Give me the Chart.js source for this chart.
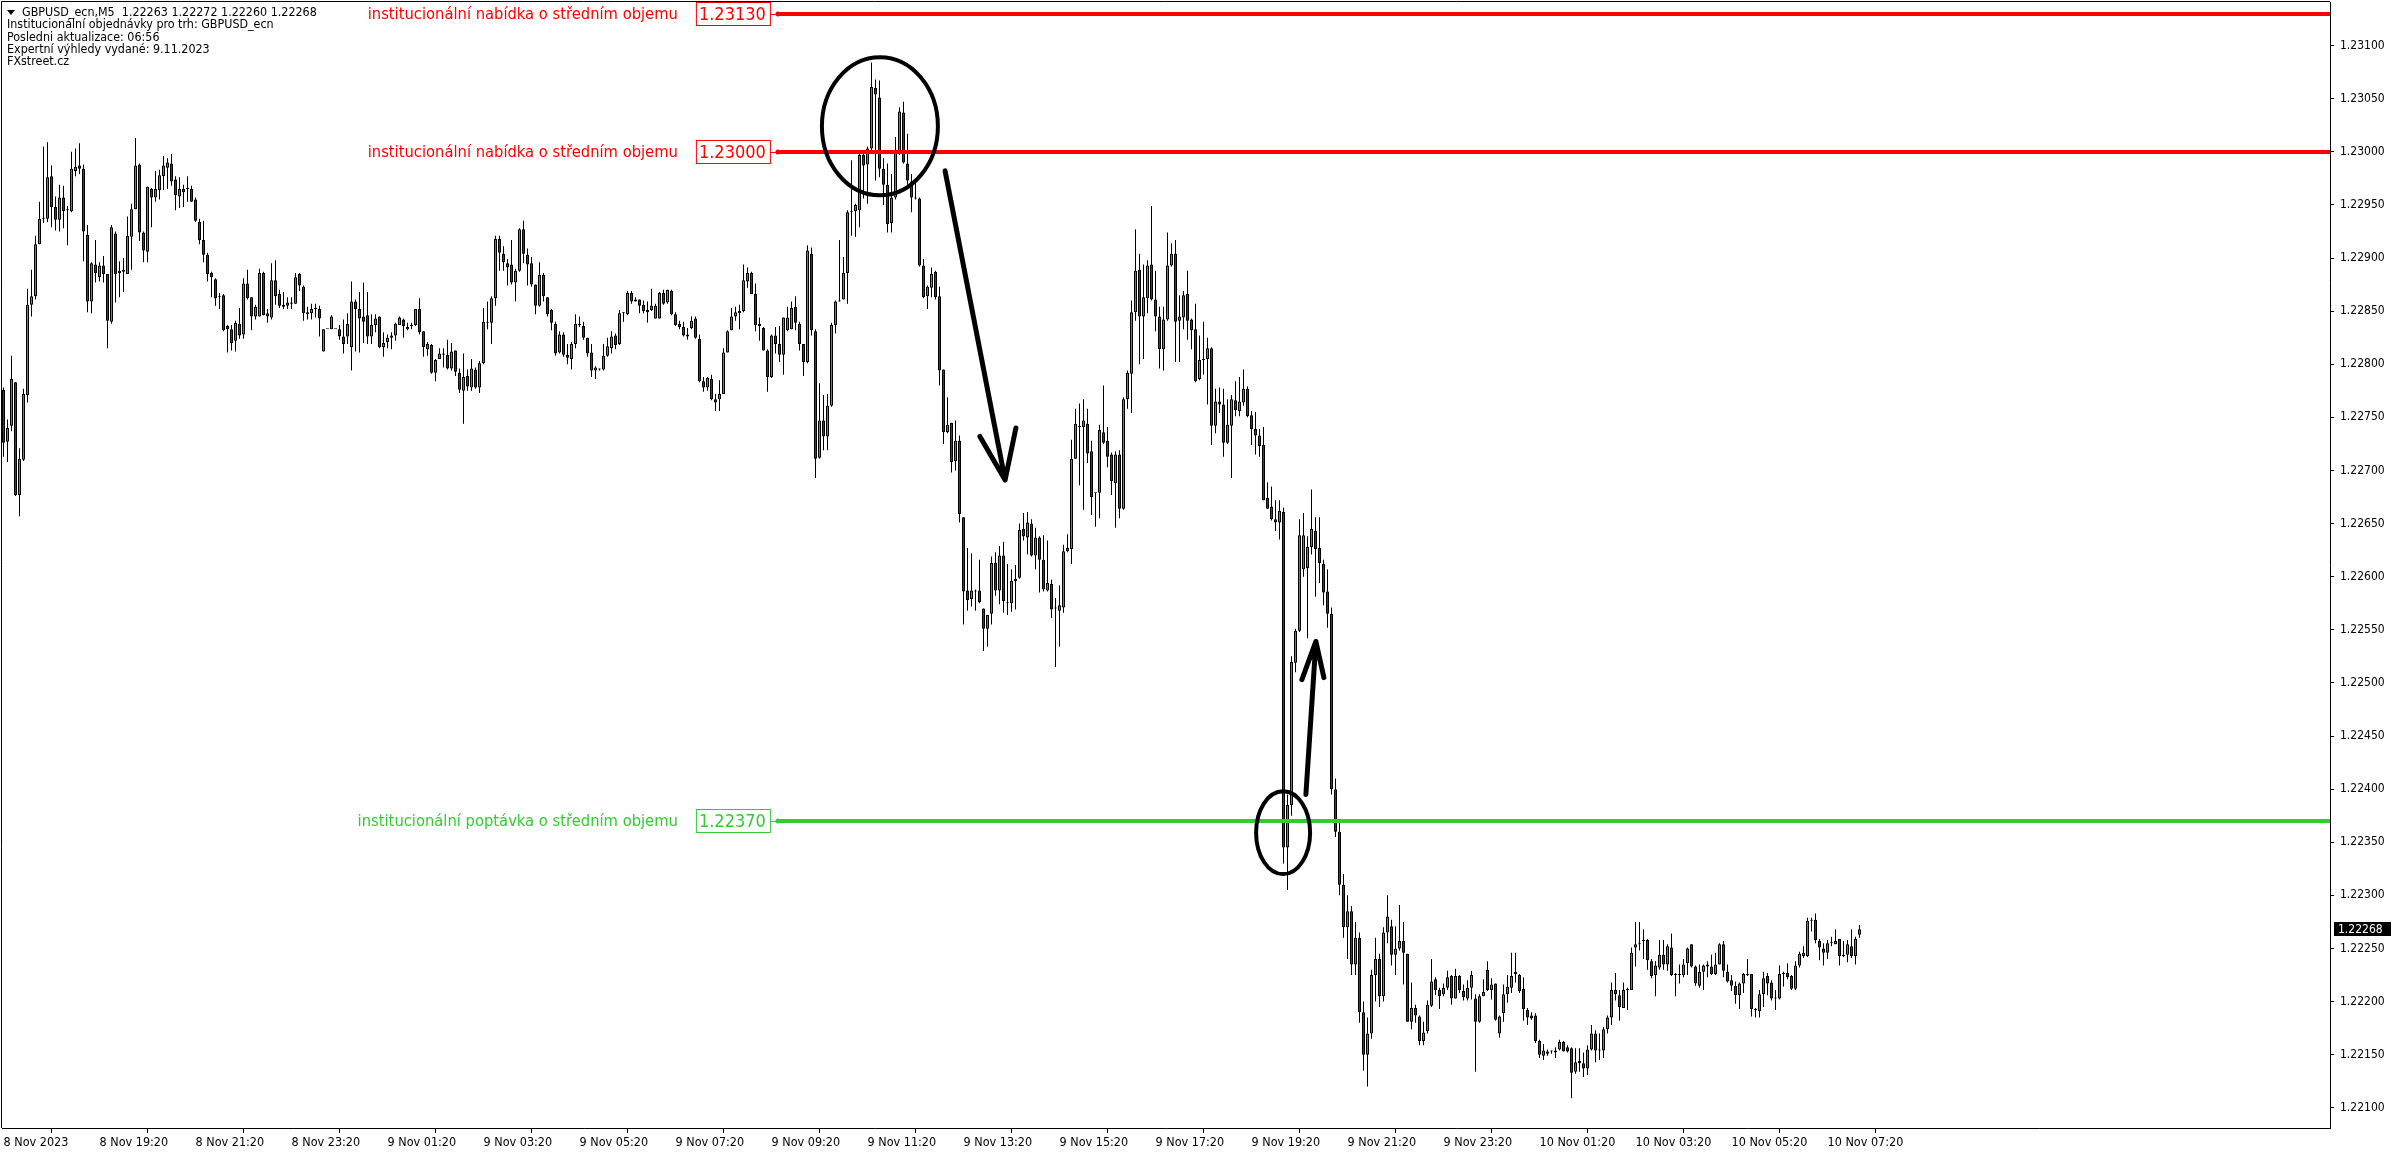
<!DOCTYPE html>
<html>
<head>
<meta charset="utf-8">
<script src="https://cdn.jsdelivr.net/npm/chart.js@4.4.0/dist/chart.umd.min.js"></script>
<style>
  html, body { margin: 0; padding: 0; background: #fff; }
  #wrap { width: 2396px; height: 1154px; }
</style>
</head>
<body>
<div id="wrap"><canvas id="chart" width="2396" height="1154"></canvas></div>
<script>
// GBPUSD M5 candles, values in points above 1.00000 (22776 -> 1.22776)
const opens = [
  22776,22727,22742,22783,22677,22710,22771,22856,22864,22913, 22937,22937,22977,22948,22936,22957,22945,22944,22982,22987,
  22984,22922,22859,22894,22882,22893,22885,22840,22923,22886, 22887,22885,22920,22946,22988,22924,22906,22965,22957,22964,
  22977,22985,22989,22974,22958,22965,22965,22965,22955,22934, 22917,22903,22886,22880,22864,22865,22836,22833,22822,22838,
  22828,22876,22863,22845,22845,22886,22848,22844,22879,22866, 22856,22855,22857,22857,22885,22873,22849,22848,22852,22852,
  22812,22833,22833,22833,22833,22826,22826,22816,22859,22852, 22845,22846,22826,22837,22845,22816,22821,22825,22827,22837,
  22842,22833,22837,22837,22852,22831,22814,22818,22792,22805, 22810,22809,22796,22813,22792,22775,22789,22778,22795,22778,
  22801,22839,22839,22862,22918,22904,22895,22894,22877,22888, 22927,22903,22895,22875,22855,22884,22863,22851,22838,22811,
  22828,22809,22805,22819,22838,22836,22825,22811,22794,22795, 22795,22808,22815,22827,22819,22848,22847,22867,22859,22861,
  22856,22851,22851,22843,22843,22867,22858,22869,22847,22838, 22835,22828,22834,22843,22824,22784,22778,22786,22767,22767,
  22772,22811,22832,22845,22848,22850,22878,22886,22866,22838, 22834,22813,22788,22827,22819,22809,22832,22833,22854,22838,
  22819,22802,22904,22831,22712,22747,22732,22761,22837,22859, 22861,22886,22943,22944,22945,22997,22988,23003,23060,23051,
  22984,22969,22933,22957,22998,23037,22989,22972,22957,22956, 22893,22864,22872,22887,22864,22795,22736,22745,22709,22728,
  22656,22587,22579,22586,22587,22570,22551,22565,22613,22587, 22620,22575,22575,22596,22599,22645,22637,22650,22620,22637,
  22616,22587,22593,22570,22568,22571,22624,22626,22711,22742, 22741,22744,22718,22679,22679,22736,22728,22715,22688,22715,
  22664,22767,22791,22849,22889,22845,22862,22894,22861,22845, 22814,22842,22893,22904,22841,22844,22866,22842,22833,22786,
  22804,22805,22815,22742,22765,22762,22726,22742,22766,22756, 22764,22777,22752,22739,22733,22724,22674,22666,22654,22651,
  22661,22345,22385,22519,22549,22607,22608,22628,22643,22627, 22612,22586,22565,22400,22360,22310,22270,22285,22235,22260,
  22190,22150,22170,22225,22240,22205,22265,22271,22244,22250, 22257,22245,22181,22194,22186,22163,22172,22196,22221,22211,
  22207,22213,22224,22203,22224,22210,22203,22213,22203,22181, 22205,22230,22211,22217,22170,22189,22207,22213,22228,22225,
  22212,22192,22187,22187,22163,22149,22151,22153,22152,22155, 22162,22157,22156,22134,22144,22142,22137,22155,22170,22155,
  22154,22174,22185,22211,22206,22194,22211,22211,22251,22254, 22257,22258,22238,22225,22232,22244,22235,22251,22226,22225,
  22225,22236,22254,22233,22215,22228,22233,22233,22226,22235, 22254,22228,22220,22215,22206,22217,22225,22226,22192,22191,
  22207,22224,22218,22203,22203,22226,22227,22224,22212,22234, 22243,22243,22276,22277,22257,22250,22246,22255,22254,22259,
  22243,22244,22252,22243,22263
];
const highs = [
  22778,22748,22808,22783,22721,22777,22871,22889,22921,22953, 23005,23009,22987,22958,22969,22968,22949,23000,23003,23008,
  22988,22931,22896,22917,22896,22902,22885,22931,22925,22897, 22900,22939,22951,23013,22989,22925,22967,22966,22982,22983,
  22996,22994,22998,22977,22976,22969,22977,22968,22957,22937, 22935,22905,22887,22881,22867,22866,22837,22837,22841,22853,
  22881,22889,22863,22856,22890,22887,22852,22895,22898,22870, 22868,22863,22863,22886,22886,22874,22854,22857,22857,22855,
  22833,22833,22846,22833,22837,22842,22848,22878,22861,22868, 22877,22868,22847,22847,22845,22830,22828,22830,22839,22845,
  22843,22839,22839,22852,22862,22831,22821,22819,22805,22815, 22815,22823,22820,22813,22796,22810,22795,22805,22797,22803,
  22853,22859,22864,22921,22921,22911,22899,22917,22890,22928, 22935,22909,22901,22875,22896,22886,22863,22852,22840,22831,
  22830,22819,22821,22847,22845,22840,22825,22819,22798,22796, 22819,22825,22831,22829,22851,22849,22869,22869,22863,22861,
  22860,22859,22871,22857,22868,22870,22870,22870,22849,22841, 22840,22834,22845,22845,22828,22788,22788,22790,22772,22785,
  22815,22832,22853,22854,22856,22894,22891,22887,22876,22844, 22835,22814,22828,22835,22836,22844,22854,22859,22864,22840,
  22819,22912,22910,22833,22782,22771,22772,22839,22860,22917, 22901,22945,22992,22951,23000,22999,23005,23084,23068,23067,
  22994,22989,22979,23014,23042,23047,23017,22979,22972,22957, 22899,22874,22891,22888,22873,22795,22769,22745,22747,22733,
  22656,22627,22622,22588,22616,22570,22564,22619,22623,22629, 22633,22612,22607,22611,22650,22660,22661,22654,22646,22638,
  22639,22634,22597,22580,22592,22630,22640,22729,22758,22763, 22767,22758,22728,22679,22743,22780,22741,22717,22718,22719,
  22769,22794,22860,22927,22904,22894,22898,22949,22888,22854, 22854,22924,22914,22917,22865,22869,22888,22843,22857,22827,
  22840,22825,22816,22777,22778,22777,22767,22771,22784,22788, 22795,22779,22756,22755,22739,22741,22689,22685,22672,22672,
  22665,22395,22525,22551,22654,22660,22638,22682,22656,22656, 22616,22607,22571,22410,22370,22320,22300,22290,22275,22265,
  22200,22185,22230,22260,22245,22270,22300,22277,22271,22291, 22275,22245,22218,22197,22187,22181,22201,22240,22223,22213,
  22217,22229,22225,22231,22225,22216,22220,22229,22207,22207, 22221,22238,22222,22217,22187,22216,22225,22246,22246,22226,
  22223,22194,22190,22189,22164,22160,22155,22154,22157,22164, 22163,22159,22157,22156,22156,22152,22159,22178,22173,22170,
  22176,22187,22218,22227,22211,22218,22213,22251,22275,22275, 22268,22259,22240,22238,22258,22258,22254,22264,22227,22235,
  22240,22251,22254,22234,22235,22235,22238,22244,22246,22255, 22257,22235,22225,22219,22218,22227,22240,22226,22194,22211,
  22228,22227,22220,22211,22234,22228,22236,22225,22238,22247, 22252,22279,22279,22283,22259,22255,22258,22261,22268,22259,
  22257,22258,22268,22261,22272
];
const lows = [
  22713,22708,22737,22676,22657,22709,22764,22845,22861,22913, 22933,22934,22929,22926,22925,22928,22912,22943,22977,22979,
  22897,22849,22848,22877,22878,22877,22815,22838,22858,22863, 22868,22885,22889,22946,22916,22896,22896,22929,22953,22955,
  22964,22965,22968,22945,22947,22948,22953,22953,22934,22913, 22896,22878,22863,22855,22852,22831,22811,22813,22812,22824,
  22824,22861,22832,22842,22845,22846,22839,22842,22856,22853, 22852,22852,22852,22857,22869,22841,22842,22842,22844,22826,
  22812,22833,22833,22833,22823,22810,22819,22794,22812,22811, 22820,22819,22819,22830,22815,22807,22815,22814,22822,22837,
  22825,22832,22833,22836,22828,22807,22808,22791,22784,22805, 22797,22795,22794,22789,22773,22744,22775,22775,22777,22773,
  22800,22833,22819,22855,22888,22888,22874,22875,22859,22887, 22895,22874,22873,22847,22854,22859,22845,22832,22808,22810,
  22807,22800,22795,22815,22835,22823,22807,22788,22786,22794, 22794,22807,22810,22814,22818,22840,22846,22857,22859,22848,
  22848,22839,22850,22843,22843,22856,22857,22846,22836,22833, 22826,22823,22833,22824,22783,22774,22775,22766,22756,22756,
  22772,22811,22832,22841,22833,22849,22872,22866,22831,22822, 22813,22774,22787,22810,22802,22790,22831,22833,22832,22813,
  22789,22801,22827,22693,22711,22719,22719,22760,22829,22859, 22861,22857,22921,22920,22929,22956,22951,23001,22973,22976,
  22950,22924,22924,22955,22997,22989,22969,22943,22955,22892, 22862,22852,22863,22861,22780,22725,22735,22698,22700,22651,
  22555,22568,22572,22568,22575,22530,22534,22555,22582,22574, 22566,22564,22567,22569,22598,22634,22621,22619,22607,22585,
  22586,22586,22561,22515,22534,22566,22623,22612,22711,22686, 22663,22707,22658,22647,22655,22725,22703,22677,22646,22655,
  22663,22758,22754,22841,22800,22805,22848,22860,22831,22796, 22794,22841,22892,22802,22802,22833,22823,22814,22783,22785,
  22790,22762,22724,22735,22754,22713,22725,22693,22751,22751, 22761,22750,22724,22715,22713,22672,22664,22653,22643,22635,
  22330,22305,22375,22510,22548,22600,22542,22621,22581,22594, 22573,22552,22395,22355,22300,22260,22240,22225,22225,22180,
  22135,22120,22165,22200,22195,22200,22255,22234,22225,22248, 22216,22181,22174,22180,22159,22159,22170,22195,22206,22193,
  22205,22211,22197,22203,22208,22201,22201,22202,22134,22180, 22205,22210,22202,22182,22166,22181,22199,22208,22218,22208,
  22182,22178,22183,22161,22147,22145,22149,22151,22147,22154, 22153,22152,22109,22132,22134,22129,22131,22154,22143,22145,
  22147,22170,22178,22201,22182,22194,22192,22211,22233,22248, 22240,22230,22222,22205,22230,22230,22229,22224,22205,22217,
  22223,22225,22232,22215,22213,22211,22223,22225,22225,22235, 22223,22218,22210,22198,22193,22208,22224,22186,22185,22185,
  22195,22206,22201,22192,22202,22214,22221,22211,22211,22232, 22241,22242,22266,22255,22239,22234,22240,22252,22254,22234,
  22242,22237,22241,22235,22260
];
const closes = [
  22726,22740,22786,22677,22711,22772,22856,22864,22913,22937, 22938,22976,22948,22936,22957,22944,22945,22984,22986,22984,
  22925,22859,22895,22886,22893,22885,22841,22929,22885,22888, 22889,22921,22946,22987,22924,22907,22967,22957,22965,22978,
  22987,22990,22972,22959,22965,22962,22965,22953,22935,22917, 22903,22885,22882,22862,22863,22832,22833,22820,22839,22827,
  22876,22862,22845,22854,22886,22846,22845,22879,22864,22855, 22854,22858,22858,22882,22874,22848,22847,22852,22853,22843,
  22833,22833,22845,22833,22826,22819,22838,22859,22852,22843, 22840,22826,22837,22843,22816,22820,22825,22827,22838,22844,
  22836,22835,22836,22852,22830,22816,22819,22792,22804,22810, 22809,22796,22812,22793,22776,22788,22779,22796,22778,22801,
  22840,22840,22862,22918,22905,22896,22891,22877,22888,22927, 22904,22894,22875,22855,22884,22864,22847,22839,22810,22828,
  22809,22806,22819,22838,22837,22825,22810,22794,22797,22795, 22808,22817,22826,22818,22848,22848,22867,22859,22861,22855,
  22850,22849,22855,22855,22867,22857,22870,22847,22837,22835, 22827,22826,22841,22825,22784,22778,22787,22767,22764,22772,
  22811,22831,22845,22849,22850,22879,22886,22866,22837,22836, 22813,22788,22827,22819,22809,22844,22844,22853,22839,22819,
  22802,22907,22832,22711,22747,22732,22761,22837,22859,22860, 22886,22943,22944,22950,22997,22987,23003,23061,23054,22984,
  22969,22932,22957,23000,23038,22990,22973,22957,22956,22893, 22863,22873,22885,22863,22794,22736,22743,22708,22728,22659,
  22586,22578,22587,22587,22576,22551,22564,22613,22587,22620, 22577,22575,22596,22598,22644,22638,22651,22620,22637,22616,
  22588,22594,22569,22570,22573,22624,22627,22711,22744,22741, 22747,22716,22675,22679,22738,22726,22713,22690,22715,22664,
  22767,22792,22849,22888,22845,22863,22893,22861,22845,22814, 22842,22893,22904,22840,22845,22865,22841,22832,22784,22804,
  22804,22815,22742,22765,22762,22726,22743,22767,22757,22765, 22777,22751,22739,22733,22723,22672,22664,22654,22651,22662,
  22345,22385,22520,22549,22639,22639,22628,22645,22626,22613, 22585,22565,22400,22360,22310,22270,22285,22235,22260,22190,
  22150,22170,22225,22240,22205,22265,22280,22244,22250,22257, 22246,22181,22194,22187,22163,22171,22197,22219,22211,22205,
  22213,22223,22203,22224,22211,22204,22213,22225,22181,22205, 22209,22211,22216,22183,22186,22207,22214,22224,22226,22210,
  22193,22185,22184,22163,22150,22154,22153,22153,22154,22162, 22153,22153,22133,22143,22142,22137,22155,22170,22154,22154,
  22174,22185,22211,22207,22195,22211,22211,22246,22254,22255, 22257,22239,22224,22234,22244,22235,22252,22225,22225,22226,
  22235,22250,22233,22217,22228,22234,22235,22226,22235,22254, 22229,22219,22215,22206,22217,22226,22226,22193,22192,22207,
  22222,22217,22203,22203,22226,22226,22223,22212,22234,22245, 22246,22276,22276,22258,22251,22246,22255,22255,22257,22243,
  22244,22254,22243,22259,22268
];

// time axis: one label every 24 candles (2 hours of M5)
const xTickIdx = [0,24,48,72,96,120,144,168,192,216,240,264,288,312,336,360,384,408,432,456];
const xTickLabels = ["8 Nov 2023","8 Nov 19:20","8 Nov 21:20","8 Nov 23:20","9 Nov 01:20","9 Nov 03:20",
  "9 Nov 05:20","9 Nov 07:20","9 Nov 09:20","9 Nov 11:20","9 Nov 13:20","9 Nov 15:20","9 Nov 17:20",
  "9 Nov 19:20","9 Nov 21:20","9 Nov 23:20","10 Nov 01:20","10 Nov 03:20","10 Nov 05:20","10 Nov 07:20"];
const yTicks = [1.221,1.2215,1.222,1.2225,1.223,1.2235,1.224,1.2245,1.225,1.2255,1.226,
  1.2265,1.227,1.2275,1.228,1.2285,1.229,1.2295,1.23,1.2305,1.231];

// institutional order levels
const levels = [
  { price: 1.23130, text: "institucionální nabídka o středním objemu", color: "#ff0000" },
  { price: 1.23000, text: "institucionální nabídka o středním objemu", color: "#ff0000" },
  { price: 1.22370, text: "institucionální poptávka o středním objemu", color: "#32cd32" }
];
const levelStartIdx = 193.6;

// hand drawn marks (candle index, price)
const ellipses = [
  { x: 219.1, y: 1.23024, rx: 14.5, ry: 0.00065 },
  { x: 319.9, y: 1.22359, rx: 6.75, ry: 0.00039 }
];
const arrows = [
  { from: [235.4, 1.22982], tip: [250.4, 1.22691], wings: [[244.1, 1.22732], [253.1, 1.22740]] },
  { from: [325.6, 1.22395], tip: [328.1, 1.22539], wings: [[324.6, 1.22503], [330.1, 1.22505]] }
];

const infoLines = [
  "GBPUSD_ecn,M5  1.22263 1.22272 1.22260 1.22268",
  "Institucionální objednávky pro trh: GBPUSD_ecn",
  "Posledni aktualizace: 06:56",
  "Expertní výhledy vydané: 9.11.2023",
  "FXstreet.cz"
];

const px = v => 1 + v / 100000;
const BULL = "#38a838", BEAR = "#d00000";
const FONT = "'DejaVu Sans Condensed', 'DejaVu Sans', sans-serif";

const bodyData = opens.map((o, i) => ({ x: i, y: [px(o), px(closes[i])] }));
const wickData = highs.map((h, i) => ({ x: i, y: [px(lows[i]), px(h)] }));

const overlay = {
  id: "overlay",
  afterDatasetsDraw(chart) {
    const { ctx, chartArea: a, scales: { x, y } } = chart;
    ctx.save();

    // level lines with labels
    const x0 = x.getPixelForValue(levelStartIdx);
    levels.forEach(l => {
      const ly = Math.round(y.getPixelForValue(l.price));
      ctx.strokeStyle = l.color;
      ctx.fillStyle = l.color;
      ctx.lineWidth = 4;
      ctx.beginPath();
      ctx.moveTo(x0, ly); ctx.lineTo(a.right, ly);
      ctx.stroke();
      ctx.beginPath(); ctx.arc(x0, ly, 2.5, 0, Math.PI * 2); ctx.fill();
      const bR = x0 - 8, bL = bR - 74;
      ctx.lineWidth = 1;
      ctx.beginPath(); ctx.moveTo(bR, ly + 0.5); ctx.lineTo(x0, ly + 0.5); ctx.stroke();
      ctx.strokeRect(bL + 0.5, ly - 11.5, 74, 23);
      ctx.font = "18px " + FONT;
      ctx.textAlign = "left"; ctx.textBaseline = "middle";
      ctx.fillText(l.price.toFixed(5), bL + 3, ly + 1);
      ctx.font = "16.4px " + FONT;
      ctx.textAlign = "right";
      ctx.fillText(l.text, bL - 18, ly + 1);
    });

    // ellipses and arrows
    ctx.strokeStyle = "#000";
    ctx.lineWidth = 4;
    ctx.lineCap = "round"; ctx.lineJoin = "round";
    ellipses.forEach(e => {
      const cx = x.getPixelForValue(e.x), cy = y.getPixelForValue(e.y);
      const rx = x.getPixelForValue(e.x + e.rx) - cx;
      const ry = y.getPixelForValue(e.y - e.ry) - cy;
      ctx.beginPath(); ctx.ellipse(cx, cy, rx, ry, 0, 0, Math.PI * 2); ctx.stroke();
    });
    ctx.lineWidth = 5;
    arrows.forEach(ar => {
      const P = p => [x.getPixelForValue(p[0]), y.getPixelForValue(p[1])];
      const f = P(ar.from), t = P(ar.tip), w1 = P(ar.wings[0]), w2 = P(ar.wings[1]);
      ctx.beginPath();
      ctx.moveTo(f[0], f[1]); ctx.lineTo(t[0], t[1]);
      ctx.moveTo(w1[0], w1[1]); ctx.lineTo(t[0], t[1]); ctx.lineTo(w2[0], w2[1]);
      ctx.stroke();
    });
    ctx.restore();
  },
  afterDraw(chart) {
    const { ctx, chartArea: a, scales: { y } } = chart;
    ctx.save();
    // frame top and left
    ctx.strokeStyle = "#000"; ctx.lineWidth = 1;
    ctx.beginPath();
    ctx.moveTo(a.left - 0.5, a.bottom); ctx.lineTo(a.left - 0.5, a.top - 0.5); ctx.lineTo(a.right, a.top - 0.5);
    ctx.stroke();

    // info text
    ctx.fillStyle = "#000";
    ctx.beginPath(); ctx.moveTo(7, 10); ctx.lineTo(15, 10); ctx.lineTo(11, 15); ctx.closePath(); ctx.fill();
    ctx.font = "12.4px " + FONT;
    ctx.textAlign = "left"; ctx.textBaseline = "middle";
    infoLines.forEach((t, i) => ctx.fillText(t, i === 0 ? 22 : 7, 13 + i * 12.2));

    // last price tag
    const last = px(closes[closes.length - 1]);
    const ly = Math.round(y.getPixelForValue(last));
    ctx.fillStyle = "#000";
    ctx.fillRect(a.right + 4, ly - 7, 57, 14);
    ctx.fillStyle = "#fff";
    ctx.font = "12px " + FONT;
    ctx.fillText(last.toFixed(5), a.right + 8, ly + 0.5);
    ctx.restore();
  }
};

new Chart(document.getElementById("chart"), {
  type: "bar",
  data: {
    datasets: [
      {
        data: bodyData,
        backgroundColor: c => closes[c.dataIndex] >= opens[c.dataIndex] ? BULL : BEAR,
        borderColor: "#000", borderWidth: 1, borderSkipped: false,
        grouped: false, barPercentage: 1, categoryPercentage: 1,
        maxBarThickness: 3, minBarLength: 1, inflateAmount: 0
      },
      {
        data: wickData,
        backgroundColor: "#000", borderWidth: 0,
        grouped: false, barPercentage: 1, categoryPercentage: 1,
        maxBarThickness: 1, inflateAmount: 0
      }
    ]
  },
  options: {
    responsive: false, animation: false, devicePixelRatio: 1,
    layout: { padding: { left: 2, top: 2, right: 0, bottom: 0 } },
    plugins: { legend: { display: false }, tooltip: { enabled: false } },
    scales: {
      x: {
        type: "linear", offset: false, min: -0.375, max: 581.625,
        afterBuildTicks: s => { s.ticks = xTickIdx.map(v => ({ value: v })); },
        afterFit: s => { s.height = 26; s.paddingLeft = 0; s.paddingRight = 0; },
        grid: { drawOnChartArea: false, drawTicks: true, tickLength: 5, color: "#000" },
        border: { color: "#000", width: 1 },
        ticks: {
          autoSkip: false, maxRotation: 0, align: "start", padding: 2, color: "#000",
          font: { family: FONT, size: 12.5 },
          callback: (v, i) => xTickLabels[i]
        }
      },
      y: {
        type: "linear", position: "right", min: 1.22081, max: 1.23141,
        afterBuildTicks: s => { s.ticks = yTicks.map(v => ({ value: v })); },
        afterFit: s => { s.width = 66; s.paddingTop = 0; s.paddingBottom = 0; },
        grid: { drawOnChartArea: false, drawTicks: true, tickLength: 4, color: "#000" },
        border: { color: "#000", width: 1 },
        ticks: {
          autoSkip: false, padding: 6, color: "#000",
          font: { family: FONT, size: 12 },
          callback: v => v.toFixed(5)
        }
      }
    }
  },
  plugins: [overlay]
});
</script>
</body>
</html>
